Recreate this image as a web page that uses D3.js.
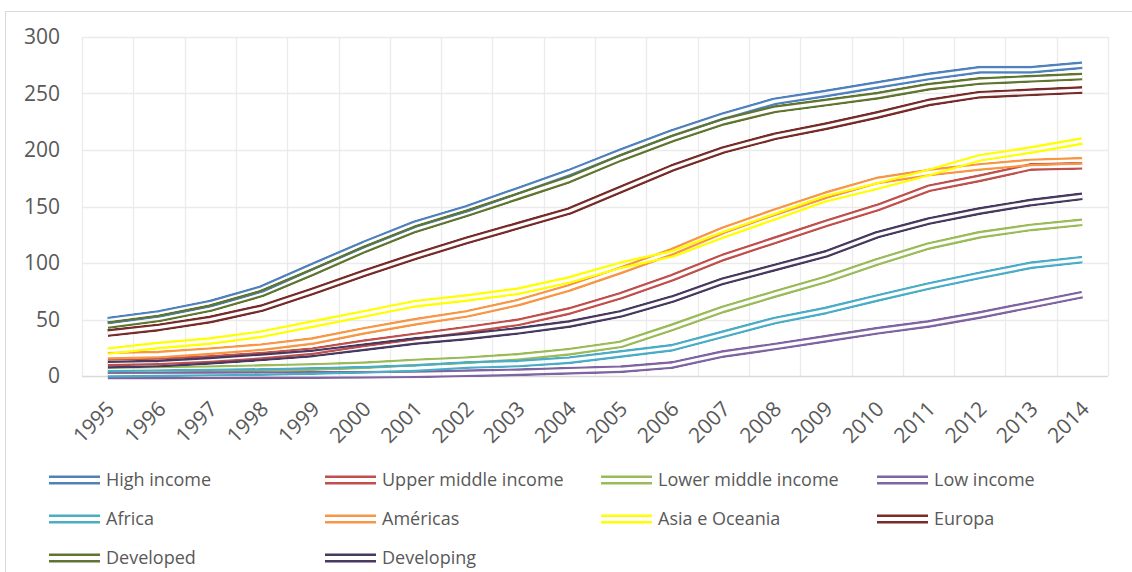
<!DOCTYPE html>
<html>
<head>
<meta charset="utf-8">
<script src="https://cdn.jsdelivr.net/npm/d3@7/dist/d3.min.js"></script>
<style>
  body { margin: 0; background: #fff; }
  text { font-family: "Open Sans", sans-serif; fill: #595959; }
</style>
</head>
<body>
<svg id="chart" width="1132" height="572"></svg>
<script>
var years = ["1995", "1996", "1997", "1998", "1999", "2000", "2001", "2002", "2003", "2004",
  "2005", "2006", "2007", "2008", "2009", "2010", "2011", "2012", "2013", "2014"];

var highIncome = [49, 55, 64, 77, 97, 116.5, 134.5, 148, 164, 180, 198, 215, 230, 243, 250, 257.5, 265, 271, 271, 275];
var upperMiddleIncome = [12, 13, 15, 18, 22, 29, 35, 41, 47.5, 57.5, 71, 87, 105, 120, 135, 149, 166, 175, 185, 186];
var lowerMiddleIncome = [5, 5.5, 6, 7, 8, 9.5, 12, 14, 17, 21.5, 28, 43, 59, 72.5, 85.5, 101, 115, 125, 131.5, 136];
var lowIncome = [0.5, 0.5, 0.6, 0.7, 0.8, 1, 1.5, 2.4, 3.3, 4.7, 6, 9.7, 19.5, 26, 33, 40, 46, 54, 63, 72];
var africa = [2, 2.5, 3, 3.5, 4.5, 5.5, 7, 9.7, 11, 14, 19.5, 25, 37, 49, 58, 69, 79.5, 89, 98, 103];
var americas = [18, 19, 22, 25.5, 31, 40, 48, 55, 65, 78, 93.5, 110, 129, 145, 160, 173, 180, 185, 189, 190.5];
var asiaOceania = [22, 27, 31, 37, 46, 55, 64, 69, 75, 85, 98, 108, 125, 141, 157, 168, 180, 193, 200, 208];
var europa = [38, 43, 50, 60, 75, 91, 106, 120, 133, 146, 165, 184, 200, 212, 221, 231, 242, 249, 251, 253];
var developed = [45, 51, 60, 73, 92, 112, 130, 144, 159, 174, 193, 210, 225, 236, 242, 248, 256, 261, 263, 265];
var developing = [10, 11, 13.5, 16.5, 20, 25.5, 31, 35, 40, 46, 55, 68, 84, 96, 108, 125, 137, 146, 153.5, 159];

var seriesNames = ["High income", "Upper middle income", "Lower middle income", "Low income",
  "Africa", "Américas", "Asia e Oceania", "Europa", "Developed", "Developing"];
var seriesColors = ["#4f81bd", "#c0504d", "#9bbb59", "#8064a2",
  "#4bacc6", "#f79646", "#ffff00", "#772c2a", "#5f7530", "#47395f"];
var seriesValues = [highIncome, upperMiddleIncome, lowerMiddleIncome, lowIncome,
  africa, americas, asiaOceania, europa, developed, developing];

var yTicks = [0, 50, 100, 150, 200, 250, 300];

var svg = d3.select("#chart");

var plotLeft = 82,
  plotRight = 1108,
  plotTop = 37,
  plotBottom = 376;

var xScale = d3.scaleBand().domain(years).range([plotLeft, plotRight]);
var yScale = d3.scaleLinear().domain([0, 300]).range([plotBottom, plotTop]);

// chart area border (only top and left visible)
svg.append("rect")
  .attr("x", 5.5)
  .attr("y", 11.5)
  .attr("width", 1140)
  .attr("height", 600)
  .attr("fill", "none")
  .attr("stroke", "#d9d9d9");

// horizontal gridlines
svg.append("g")
  .selectAll("line")
  .data(yTicks.filter(function (d) { return d > 0; }))
  .enter()
  .append("line")
  .attr("x1", plotLeft)
  .attr("x2", plotRight)
  .attr("y1", function (d) { return Math.round(yScale(d)) + 0.5; })
  .attr("y2", function (d) { return Math.round(yScale(d)) + 0.5; })
  .attr("stroke", "#ebebeb")
  .attr("stroke-width", 1.3);

// vertical gridlines on category boundaries
var boundaries = years.map(function (d) { return xScale(d); }).concat([plotRight]);
svg.append("g")
  .selectAll("line")
  .data(boundaries)
  .enter()
  .append("line")
  .attr("x1", function (d) { return Math.round(d) + 0.5; })
  .attr("x2", function (d) { return Math.round(d) + 0.5; })
  .attr("y1", plotTop)
  .attr("y2", plotBottom)
  .attr("stroke", "#ebebeb")
  .attr("stroke-width", 1.3);

// category axis line
svg.append("line")
  .attr("x1", plotLeft)
  .attr("x2", plotRight)
  .attr("y1", Math.round(yScale(0)) + 0.5)
  .attr("y2", Math.round(yScale(0)) + 0.5)
  .attr("stroke", "#d9d9d9")
  .attr("stroke-width", 1.3);

// y tick labels
svg.append("g")
  .selectAll("text")
  .data(yTicks)
  .enter()
  .append("text")
  .attr("x", 60)
  .attr("y", function (d) { return yScale(d); })
  .attr("dy", "0.35em")
  .attr("text-anchor", "end")
  .style("font-size", "21px")
  .text(function (d) { return d; });

// x tick labels, rotated
svg.append("g")
  .selectAll("text")
  .data(years)
  .enter()
  .append("text")
  .attr("transform", function (d) {
    var cx = xScale(d) + xScale.bandwidth() / 2;
    return "translate(" + (cx + 3) + "," + 405 + ") rotate(-45)";
  })
  .attr("text-anchor", "end")
  .attr("dy", "0.35em")
  .style("font-size", "21px")
  .text(function (d) { return d; });

// double ("compound") lines drawn with a mask so the gap is see-through
var line = d3.line()
  .x(function (d, i) { return xScale(years[i]) + xScale.bandwidth() / 2; })
  .y(function (d) { return yScale(d); });

var defs = svg.append("defs");
var outerWidth = 8,
  gapWidth = 3.2;

seriesValues.forEach(function (values, i) {
  var mask = defs.append("mask")
    .attr("id", "dbl-" + i)
    .attr("maskUnits", "userSpaceOnUse")
    .attr("x", 0)
    .attr("y", 0)
    .attr("width", 1132)
    .attr("height", 572);
  mask.append("path")
    .attr("d", line(values))
    .attr("fill", "none")
    .attr("stroke", "#fff")
    .attr("stroke-width", outerWidth)
    .attr("stroke-linejoin", "round");
  mask.append("path")
    .attr("d", line(values))
    .attr("fill", "none")
    .attr("stroke", "#000")
    .attr("stroke-width", gapWidth)
    .attr("stroke-linejoin", "round");
});

svg.append("g")
  .selectAll("path")
  .data(seriesValues)
  .enter()
  .append("path")
  .attr("d", function (d) { return line(d); })
  .attr("fill", "none")
  .attr("stroke", function (d, i) { return seriesColors[i]; })
  .attr("stroke-width", outerWidth)
  .attr("stroke-linejoin", "round")
  .attr("mask", function (d, i) { return "url(#dbl-" + i + ")"; });

// legend
var legend = svg.append("g")
  .selectAll("g")
  .data(seriesNames)
  .enter()
  .append("g")
  .attr("transform", function (d, i) {
    return "translate(" + (49 + (i % 4) * 276) + "," + (480 + Math.floor(i / 4) * 39) + ")";
  });

legend.append("line")
  .attr("x1", 0)
  .attr("x2", 51)
  .attr("y1", -3.2)
  .attr("y2", -3.2)
  .attr("stroke", function (d, i) { return seriesColors[i]; })
  .attr("stroke-width", 2.5);

legend.append("line")
  .attr("x1", 0)
  .attr("x2", 51)
  .attr("y1", 3.2)
  .attr("y2", 3.2)
  .attr("stroke", function (d, i) { return seriesColors[i]; })
  .attr("stroke-width", 2.5);

legend.append("text")
  .attr("x", 57)
  .attr("y", 0)
  .attr("dy", "0.35em")
  .style("font-size", "18px")
  .text(function (d) { return d; });
</script>
</body>
</html>
